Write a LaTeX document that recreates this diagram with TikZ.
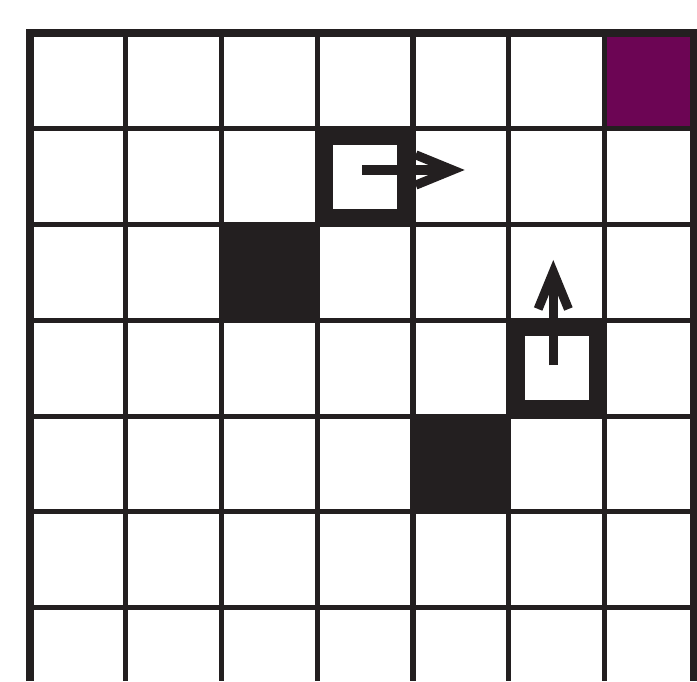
\documentclass[tikz,border=0pt]{standalone}
\usetikzlibrary{arrows.meta}
\definecolor{ink}{RGB}{35,31,32}
\definecolor{goalpurple}{RGB}{108,5,84}
\begin{document}
\begin{tikzpicture}
   [x=1cm,y=1cm,
    gridline/.style={draw=ink,line width=1.5pt},
    border/.style={draw=ink,line width=2.4pt,line join=miter},
    wall/.style={rectangle,fill=ink,minimum size=1cm,inner sep=0pt},
    goal/.style={rectangle,fill=goalpurple,minimum width=0.934cm,minimum height=1cm,inner sep=0pt},
    robot/.style={rectangle,draw=ink,line width=5.5pt,minimum size=0.859cm,inner sep=0pt},
    move/.style={draw=ink,line width=2.7pt,-{Straight Barb[length=11pt,width=9pt]}}]
  \useasboundingbox (-0.313,-6.768) rectangle (6.966,0.345);

  \node[goal] (g) at (6.467,-0.5) {};
  \node[wall] (w1) at (2.5,-2.5) {};
  \node[wall] (w2) at (4.5,-4.5) {};

  \foreach \x in {1,...,6}
    \draw[gridline] (\x,0) -- (\x,-6.768);
  \foreach \y in {1,...,6}
    \draw[gridline] (0,-\y) -- (6.934,-\y);
  \draw[border] (0,-6.768) -- (0,0) -- (6.934,0) -- (6.934,-6.768);

  \node[robot] (r1) at (3.5,-1.5) {};
  \node[robot] (r2) at (5.5,-3.5) {};

  \draw[move] ([shift={(-0.03,0.07)}]r1.center) -- ++(1.07,0);
  \draw[move] ([shift={(-0.035,0.03)}]r2.center) -- ++(0,1.1);

\end{tikzpicture}
\end{document}
